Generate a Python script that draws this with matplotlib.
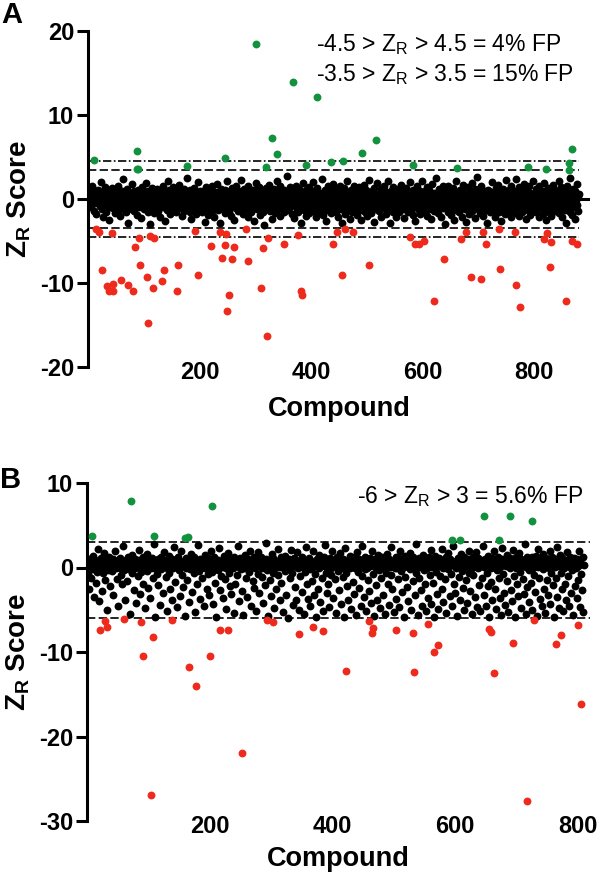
import matplotlib.pyplot as plt
import numpy as np

plt.rcParams['font.family'] = ['Liberation Sans', 'DejaVu Sans']
plt.rcParams['mathtext.fontset'] = 'custom'
plt.rcParams['mathtext.rm'] = 'Liberation Sans'
plt.rcParams['mathtext.bf'] = 'Liberation Sans:bold'

# ---- panel A : Z_R scores per compound (tenths) ----
a_black = [
    12, 5, -3, 8, -10, 2, 15, -6, 0, 4, -14, 7, -2, 9, -18, 3, -5, 11, -1, 6, -8, 1, 20, -4, -12, 5, -22, 8, -3, 14, -7, 0, -15, 3, 10, -2, -25, 6, -9, 2,
    -4, 7, 13, -11, 1, -6, 4, -17, 9, -1, 3, -8, 16, -3, 0, -13, 6, -20, 2, -5, 10, -7, 24, -2, 8, -10, -1, 5, -16, 12, -4, -28, 1, 7, -9, 3, -6, 18, -12, 4,
    -2, 9, -14, 0, 6, -7, -19, 3, 11, -5, 1, -10, 8, -3, -23, 5, 14, -8, 2, -1, -12, 7, -4, 19, -6, 0, -15, 10, -2, 4, -30, 6, -9, 13, -1, -5, 3, -17, 8, -11,
    5, -3, -8, 12, 0, -14, 7, -2, -21, 4, 9, -6, -1, 16, -10, 3, -4, -26, 8, 1, -13, 6, -7, 22, -2, 11, -18, 0, 5, -9, -3, 14, -5, -12, 2, 8, -16, -1, 10, -4,
    -7, 3, 17, -11, 1, -5, 9, -20, 4, -2, 6, -14, 12, -8, 0, -3, 25, -6, 7, -10, 2, -15, 11, -1, -24, 5, -9, 8, -4, 13, -12, 0, 3, -18, 6, -7, 1, 20, -13, -2,
    9, -5, -1, -16, 4, 10, -8, 2, -27, 7, -3, 14, -11, 0, 6, -19, -4, 11, -2, -9, 5, 15, -14, 1, -6, -22, 8, 3, -10, -1, 18, -5, -13, 4, 0, -29, 9, -7, 12, -3,
    2, -12, 7, -4, -17, 11, 0, -8, 5, 21, -2, -15, 3, -6, 9, -20, 1, 13, -10, -3, 6, -25, 8, -1, -11, 16, -5, 4, -14, 0, 10, -7, -2, 23, -9, 3, -18, 6, -4, 12,
    -1, -13, 8, -6, 2, -21, 15, -3, 5, -10, 0, 7, -16, -2, 11, -8, 4, -26, 9, -5, 1, 19, -12, 3, -7, -1, 14, -19, 6, -4, -9, 10, 0, -15, 2, -31, 8, -6, 13, -3,
    5, -11, 0, 17, -7, 3, -14, -2, 9, -24, 6, -5, 12, -9, 1, -17, 4, -1, 22, -12, 8, -3, -6, 15, -20, 0, 7, -10, 2, -4, 11, -16, -8, 5, -1, 27, -13, 3, -7, 9,
    -4, 14, -10, 1, -18, 6, -2, 10, -23, 4, -7, 0, 16, -12, 8, -5, -15, 2, 12, -1, -28, 7, -9, 3, 19, -6, -13, 5, -2, -20, 11, 0, -8, 6, -3, 14, -17, 1, -11, 8,
    -6, 2, -14, 20, -3, 9, -9, 0, -22, 5, 13, -7, -1, -16, 7, 3, -12, -4, 24, -10, 1, -19, 8, -2, 11, -6, -26, 4, -13, 15, 0, -8, 6, -3, -17, 10, -5, 2, -11, 18,
    -2, -9, 5, -15, 12, -4, 1, -21, 7, -7, 16, -1, -12, 3, -29, 9, -5, 0, 13, -18, 6, -3, -10, 21, -6, 2, -14, 8, -1, -24, 11, -8, 4, -16, 0, 15, -4, -11, 7, -2,
    3, -19, 10, -6, -1, 14, -13, 5, -3, -25, 8, 0, -9, 17, -5, 2, -15, 11, -2, -20, 6, -7, 1, 23, -11, 4, -4, -17, 9, -1, -8, 13, -27, 0, 6, -12, 3, -5, 19, -9,
    1, -14, 7, -3, 12, -22, 4, -8, 0, 16, -5, -11, 9, -1, -18, 3, -6, 21, -13, 6, -2, -28, 10, -4, 2, -16, 14, -7, 0, -10, 8, -3, -21, 5, -1, 12, -15, 4, -9, -2,
    17, -6, 0, -12, 6, -4, -23, 9, 2, -8, 13, -2, -16, 5, -10, 1, 20, -5, -14, 7, -1, -19, 11, -3, 3, -26, 8, -9, 15, 0, -7, 4, -13, -1, 10, -18, 2, -4, 22, -11,
    5, -2, -16, 9, -8, 0, 14, -20, 3, -5, 11, -12, -1, 6, -24, 2, 18, -9, -3, 7, -14, 1, -6, 25, -10, 4, -2, -17, 12, 0, -7, 8, -22, 3, -4, 15, -11, -1, 6, -30,
    10, -3, -9, 4, -15, 16, -1, -6, 2, -19, 8, -11, 0, 13, -4, -25, 7, -2, -13, 21, -7, 3, -10, 5, -1, -16, 11, -5, 1, -21, 9, -8, 17, -3, 0, -12, 6, -27, 4, -6,
    14, -1, -18, 8, -10, 3, -4, 19, -14, 0, 6, -7, -23, 12, -2, -9, 4, 26, -12, 1, -5, 9, -17, -1, 15, -8, 2, -20, 7, -3, -13, 10, 0, -6, -29, 5, 11, -11, -2, 3,
    -16, 8, -4, 20, -9, 1, -13, 6, -1, -22, 13, -6, 3, -10, 17, -3, -15, 0, 9, -7, -26, 5, -2, 12, -12, 2, -18, 7, -4, 23, -8, 0, -14, 11, -1, -5, 4, -21, 15, -10,
    2, -7, 10, -17, -1, 6, -12, 24, -4, 1, -9, 14, -20, 3, -6, 8, -2, -15, 11, -11, 0, 18, -8, 5, -24, -3, 9, -13, 2, -1, 16, -19, 7, -5, -10, 4, 21, -7, 0, -14,
    6, -3, 12, -16, 1, -9, 3, -22, 15, -5, 0, -11, 8, -2, -18, 10, -6, 19, -13, 4, -1, -25, 7, -8, 13, 2, -15, -4, 9, -20, 0, 5, -10, 17, -3, -7, 11, -14, 1, -2,
    -12, 8, -5, 22, -17, 3, -1, 14, -9, -21, 6, 0, -6, 10, -13, 4, -28, 16, -3, 7, -11, 1, -8, 25, -15, 5, -2, -19, 12, -4, 2, -10, 9, -24, -1, 18, -7, 3, -14, 6,
]
a_green_x = [11, 87, 90, 87, 178, 245, 302, 320, 330, 338, 368, 391, 410, 436, 457, 491, 516, 582, 661, 788, 821, 862, 862, 868]
a_green_z = [4.7, 5.7, 3.6, 3.6, 3.9, 4.9, 18.5, 3.8, 7.3, 5.3, 13.9, 4.1, 12.2, 4.4, 4.5, 5.5, 7.0, 4.1, 3.7, 3.8, 3.6, 4.3, 3.5, 6.0]
a_red_x = [14, 20, 25, 34, 38, 43, 44, 45, 60, 71, 80, 84, 91, 93, 106, 107, 111, 116, 119, 132,
           136, 159, 162, 191, 198, 221, 237, 241, 245, 247, 250, 252, 258, 261, 283, 286, 311, 314, 321, 322,
           352, 376, 382, 384, 440, 446, 455, 461, 475, 503, 577, 586, 594, 602, 620, 638, 668, 677, 687, 704,
           708, 714, 736, 739, 766, 768, 774, 818, 823, 828, 830, 857, 868, 877]
a_red_z = [-3.6, -3.9, -8.5, -10.4, -11.0, -4.1, -11.0, -10.1, -9.7, -10.2, -11.0, -5.7, -4.7, -7.8, -9.3, -14.8, -4.4, -10.6, -4.7, -9.8,
           -8.5, -11.0, -7.9, -3.8, -9.1, -5.6, -3.9, -7.0, -5.5, -4.2, -13.3, -11.4, -7.2, -5.7, -3.6, -7.4, -10.6, -5.8, -16.3, -4.6,
           -5.4, -4.3, -11.0, -11.4, -5.3, -3.9, -9.0, -3.6, -3.9, -7.8, -4.5, -5.3, -5.3, -5.0, -12.2, -7.1, -4.8, -3.9, -9.3, -9.5,
           -3.9, -5.3, -3.6, -8.3, -3.9, -10.2, -12.9, -4.8, -4.1, -8.1, -5.1, -12.1, -5.0, -5.3]
a_dashed = [3.5, -3.5]
a_dashdot = [4.5, -4.5]

# ---- panel B ----
b_black = [
    3, -8, 10, -25, 5, 1, -12, 7, -2, 14, -35, 4, 9, 0, -18, 6, -5, 22, 2, -40, 8, -1, 11, 3, -28, -6, 5, 17, 0, -15, 9, 2, -50, 6, -3, 12, 1, -22, 4, 7,
    -4, 10, -33, 2, 6, 19, -1, 8, -14, 3, -45, 5, 0, 11, -9, 4, -20, 7, 26, 1, -3, -38, 9, 2, 6, -16, 13, -2, 4, -55, 8, 0, 15, -7, 3, -27, 5, 10, -1, -42,
    6, 2, -10, 9, 21, -31, 4, -5, 7, 0, -19, 12, 3, -48, 8, 1, -4, 16, 5, -24, 2, 9, -36, -1, 6, 11, -13, 3, 28, 0, -58, 7, 4, -8, 10, -21, 2, 5, -44, 13,
    -2, 7, 1, -30, 9, 18, 4, -11, 6, -52, 0, 3, 14, -6, 8, -26, 2, -39, 10, 5, -1, 24, 7, -17, 3, -47, 9, 1, 12, -3, 6, -34, 4, 20, -9, 2, -23, 8, -57, 5,
    11, 0, -15, 6, 3, -41, 9, -2, 16, 4, -29, 7, 1, -7, 13, -53, 5, 2, -20, 8, 27, -4, 3, -37, 10, 0, 6, -12, 4, -46, 9, 15, -1, 5, -25, 2, -8, 11, -33, 7,
    1, 19, -5, 8, -43, 3, 12, 0, -18, 6, -59, 4, 9, -3, 23, 2, -27, 7, -10, 5, -36, 1, 14, 8, -14, 0, -49, 6, 3, 17, -6, 10, -22, 2, -31, 9, 4, -1, -54, 12,
    5, -19, 3, 8, -9, 25, 1, -40, 6, 11, -2, 4, -28, 9, -56, 0, 7, 15, -13, 3, -35, 10, 2, -5, 20, 6, -45, 1, 8, -16, 4, 12, -24, -1, 7, -51, 3, 18, -8, 9,
    -30, 2, 6, 13, -11, 0, -42, 8, 4, -21, 10, 29, -3, 5, -57, 1, 9, -15, 7, -34, 2, 16, -6, 11, -48, 4, 0, -26, 8, 3, 22, -9, 6, -39, 1, 12, -18, 5, -53, 7,
    9, -4, 14, 1, -32, 6, 3, -60, 10, 0, -13, 8, 21, -7, 4, -44, 2, 11, -23, 5, -38, 7, 18, -1, -50, 3, 9, -10, 6, -29, 13, 1, -55, 8, -5, 4, 24, -20, 2, -37,
    6, 11, -2, -46, 8, 4, -16, 1, 19, -33, 7, -8, 3, -58, 10, 5, -25, 0, 15, -41, 9, 2, -12, 6, -52, 13, 4, 27, -6, 1, -30, 8, -19, 3, -47, 11, 0, -9, 7, 20,
    -36, 2, 5, -14, 9, -54, 1, 12, -4, 7, -27, 3, 17, -43, 6, 0, -11, 10, -59, 4, 23, -7, 8, -22, 2, -39, 5, 14, -1, -49, 9, 3, -17, 6, -31, 12, 0, -56, 7, 18,
    -5, 4, -24, 10, 1, -45, 8, 26, -10, 3, -35, 6, -2, 13, -51, 9, 0, -15, 5, -28, 11, 2, -42, 7, 19, -8, 4, -57, 1, 10, -21, 6, -38, 3, 15, -3, 8, -48, 0, -13,
    12, 5, -32, 9, 2, -55, 7, -6, 16, -19, 4, -44, 10, 1, 24, -9, 6, -26, 3, -53, 8, -1, 13, -37, 5, 0, -14, 11, -47, 2, 20, -4, 7, -29, 9, -58, 1, 14, -11, 6,
    -23, 3, 10, -40, 5, 17, -2, 8, -50, 0, 12, -16, 4, -33, 9, 28, -7, 2, -56, 6, -12, 11, 1, -27, 7, -45, 3, 15, -3, 10, -20, 5, -52, 0, 8, -36, 13, 4, -9, 21,
    -43, 6, 1, -18, 10, -59, 3, 14, -5, 8, -31, 2, -49, 11, 7, -10, 4, 22, -25, 0, -41, 9, 5, -14, 12, -54, 1, 17, -2, 6, -34, 10, -8, 3, -46, 7, 25, -19, 4, -30,
    8, 0, -57, 11, 5, -11, 2, -38, 9, 16, -4, 6, -24, 13, -50, 1, 7, -15, 3, -42, 10, 20, -6, 4, -28, 8, -55, 0, 12, -9, 5, -35, 2, 18, -47, 7, -1, 11, -21, 3,
    -52, 9, 4, -13, 7, 26, -33, 1, 10, -45, 5, -7, 14, -22, 3, -58, 8, 0, -17, 11, -39, 2, 6, 19, -26, 4, -49, 9, -3, 13, -12, 6, -36, 1, -56, 10, 23, -8, 5, -30,
    7, -44, 2, 15, -16, 8, -53, 4, 11, -1, -27, 6, -40, 9, 21, -10, 3, -59, 12, 0, -20, 7, -34, 5, 17, -5, 10, -48, 2, -14, 8, -31, 4, 28, -55, 1, 13, -23, 6, -3,
    -41, 9, 5, -18, 12, -50, 0, 8, -9, 3, -29, 14, -57, 6, 1, 22, -12, 10, -37, 4, -46, 7, -2, 16, -25, 2, -54, 11, 5, -15, 9, -32, 0, 19, -43, 6, -7, 12, -21, 3,
    -58, 8, 1, -13, 10, 24, -35, 5, -48, 2, 15, -6, 7, -26, 11, -52, 4, 0, -19, 9, -39, 3, 18, -10, 6, -45, 1, 13, -30, 8,
    -3, -56, 5, 11, -22, 7, -1, -36, 10, 2, -15, 20, -47, 6, -8, 4, -27, 12, -53, 3,
]
b_green_x = [8, 71, 109, 159, 165, 203, 595, 608, 648, 671, 690, 726]
b_green_z = [3.7, 7.9, 3.7, 3.5, 3.6, 7.3, 3.2, 3.3, 6.1, 3.2, 6.1, 5.5]
b_red_x = [21, 29, 32, 61, 88, 91, 105, 107, 138, 167, 177, 201, 217, 230, 253, 293, 304, 346, 368, 385,
           423, 460, 464, 467, 504, 532, 533, 556, 566, 572, 655, 658, 664, 694, 718, 729, 765, 773, 801, 806]
b_red_z = [-7.4, -6.3, -7.0, -6.1, -6.4, -10.5, -26.9, -8.2, -6.2, -11.8, -14.0, -10.5, -7.4, -7.4, -22.0, -6.2, -6.5, -7.9, -7.0, -7.5,
           -12.2, -6.3, -7.8, -7.2, -7.4, -7.7, -12.4, -6.7, -10.0, -9.2, -7.3, -7.6, -12.5, -8.9, -27.6, -6.2, -9.1, -8.0, -6.8, -16.2]
b_dashed = [3, -6]

GREEN = '#12913e'
RED = '#ee2a1c'
DOT = 32
tick_font = dict(fontsize = 17, fontweight = 'bold')


def style(ax, xlim, ylim, yticks):
    ax.set_xlim(xlim)
    ax.set_ylim(ylim)
    for s in ['top', 'right', 'bottom']:
        ax.spines[s].set_visible(False)
    ax.spines['left'].set_linewidth(2.2)
    ax.set_yticks(yticks)
    ax.set_yticklabels([str(t) for t in yticks], **tick_font)
    ax.set_xticks([200, 400, 600, 800])
    ax.set_xticklabels(['200', '400', '600', '800'], **tick_font)
    ax.tick_params(axis = 'y', length = 8, width = 2.2, pad = 2)
    ax.tick_params(axis = 'x', length = 0, pad = -4)
    ax.set_ylabel(r'Z$_\mathbf{R}$ Score', fontsize = 20, fontweight = 'bold')
    ax.yaxis.set_label_coords(-0.11, 0.5)
    ax.set_xlabel('Compound', fontsize = 19.5, fontweight = 'bold')


fig = plt.figure(figsize = (6, 8.75), dpi = 100)

# panel A
axA = fig.add_axes([88 / 600, 1 - 367 / 875, 502 / 600, 336 / 875])
style(axA, (0, 900), (-20, 20), [-20, -10, 0, 10, 20])
axA.xaxis.set_label_coords(0.5, -0.085)
axA.axhline(0, color = 'black', lw = 2.2, zorder = 1)
axA.hlines(a_dashed, 0, 880, color = 'black', lw = 1.2, linestyles = (0, (5, 2)), zorder = 1)
axA.hlines(a_dashdot, 0, 880, color = 'black', lw = 1.2, linestyles = (0, (5, 1.5, 1, 1.5)), zorder = 1)
xa = np.arange(1, len(a_black) + 1)
axA.scatter(xa, np.array(a_black) / 10, s = DOT, color = 'black', lw = 0, zorder = 2)
axA.scatter(a_green_x, a_green_z, s = DOT, color = GREEN, lw = 0, zorder = 3)
axA.scatter(a_red_x, a_red_z, s = DOT, color = RED, lw = 0, zorder = 3)
axA.text(0.455, 0.94, r'-4.5 > Z$_\mathregular{R}$ > 4.5 = 4% FP', transform = axA.transAxes, fontsize = 16.5, va = 'baseline')
axA.text(0.455, 0.852, r'-3.5 > Z$_\mathregular{R}$ > 3.5 = 15% FP', transform = axA.transAxes, fontsize = 16.5, va = 'baseline')
fig.text(12 / 600, 1 - 15 / 875, 'A', fontsize = 21, fontweight = 'bold', ha = 'center', va = 'center')

# panel B
axB = fig.add_axes([87 / 600, 1 - 821 / 875, 503 / 600, 338 / 875])
style(axB, (0, 820), (-30, 10), [-30, -20, -10, 0, 10])
axB.xaxis.set_label_coords(0.5, -0.075)
axB.hlines(b_dashed, 0, 820, color = 'black', lw = 1.2, linestyles = (0, (5, 2)), zorder = 1)
xb = np.arange(1, len(b_black) + 1)
axB.scatter(xb, np.array(b_black) / 10, s = DOT, color = 'black', lw = 0, zorder = 2)
axB.scatter(b_green_x, b_green_z, s = DOT, color = GREEN, lw = 0, zorder = 3)
axB.scatter(b_red_x, b_red_z, s = DOT, color = RED, lw = 0, zorder = 3)
axB.text(0.536, 0.94, r'-6 > Z$_\mathregular{R}$ > 3 = 5.6% FP', transform = axB.transAxes, fontsize = 16.5, va = 'baseline')
fig.text(11 / 600, 1 - 480 / 875, 'B', fontsize = 21, fontweight = 'bold', ha = 'center', va = 'center')

plt.savefig('out.png', dpi = 100)
plt.close()
